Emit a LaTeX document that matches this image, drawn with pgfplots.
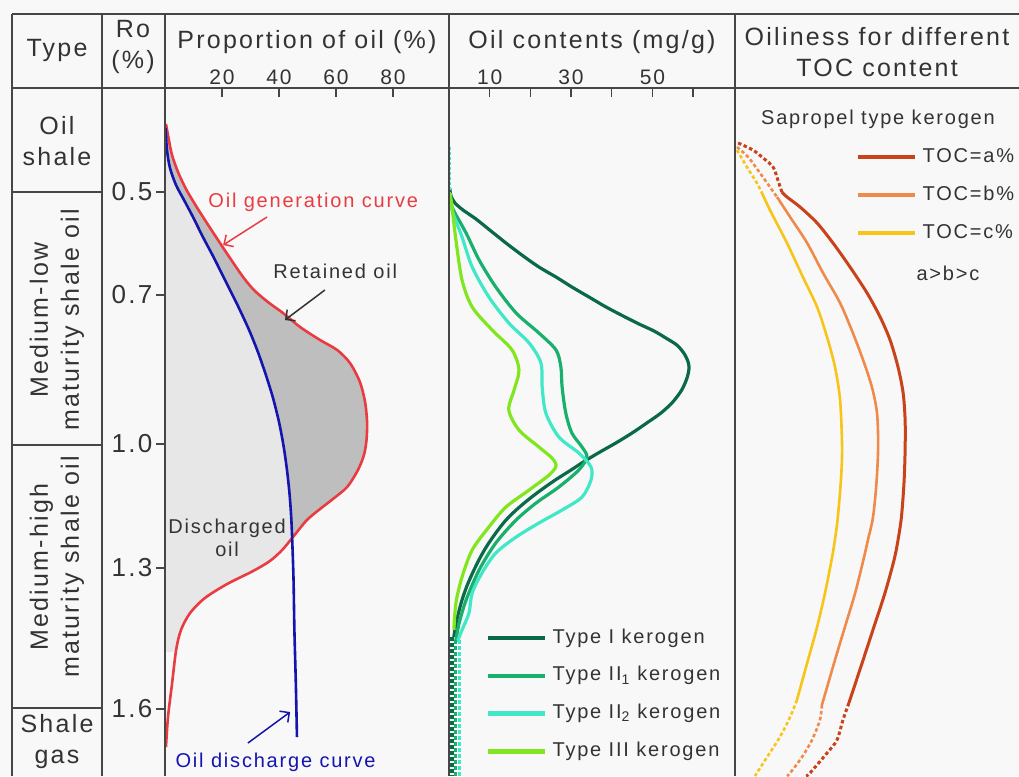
\documentclass[border=0pt]{standalone}
\usepackage{pgfplots}
\pgfplotsset{compat=1.18}
\usetikzlibrary{arrows.meta}
\usepackage{fontspec}
\setmainfont{Liberation Sans}[LetterSpace=9]

\definecolor{frame}{RGB}{70,70,70}
\definecolor{txt}{RGB}{51,51,51}
\definecolor{bg}{RGB}{248,248,248}
\definecolor{gencol}{RGB}{232,60,66}
\definecolor{discol}{RGB}{20,20,175}
\definecolor{retfill}{RGB}{190,190,190}
\definecolor{disfill}{RGB}{231,231,231}
\definecolor{kI}{RGB}{10,105,72}
\definecolor{kIIa}{RGB}{24,176,108}
\definecolor{kIIb}{RGB}{64,232,200}
\definecolor{kIII}{RGB}{130,230,30}
\definecolor{tocA}{RGB}{200,66,26}
\definecolor{tocB}{RGB}{240,138,74}
\definecolor{tocC}{RGB}{247,196,24}

\newcommand{\fhead}{\fontsize{25}{31}\selectfont}
\newcommand{\fnote}{\fontsize{20}{23}\selectfont}
\newcommand{\ftick}{\fontsize{21}{25}\selectfont}
\newcommand{\fro}{\fontsize{26}{30}\selectfont}

\pgfplotsset{
  panel/.style={anchor=north west, scale only axis, height=688pt,
    ymin=88, ymax=776, y dir=reverse,
    axis line style={draw=none},
    major tick length=9pt,
    tick style={draw=frame, line width=1.5pt},
    every tick label/.append style={text=txt},
    xticklabel style={font=\ftick},
    yticklabel style={font=\fro},
    legend cell align=left},
  keylegend/.style={legend image code/.code={\draw[##1, line width=4.5pt, solid] (0pt,0pt) -- (57pt,0pt);}},
}

\begin{document}
\begin{tikzpicture}
\path[use as bounding box, fill=bg] (0pt,0pt) rectangle (1019pt,-776pt);

% ---------- Proportion of oil ----------
\begin{axis}[panel, at={(165pt,-88pt)}, width=284pt, xmin=0, xmax=99.65,
  xtick={20,40,60,80}, xticklabels={20,40,60,80},
  xtick pos=right, xticklabel pos=right, xtick align=inside,
  ytick={192,295,444,568,709}, yticklabels={0.5,0.7,1.0,1.3,1.6},
  ytick pos=left, yticklabel pos=left, ytick align=outside]
% discharged oil: between the Ro axis and the generation curve
\addplot[fill=disfill, draw=none, smooth, tension=0.5] coordinates {
 (0,124) (0.35,124) (1.23,138) (2.46,155) (4.56,172) (7.37,189) (10.9,206)
 (14.7,223) (18.6,240) (22.8,258) (27.4,277) (31.2,290) (36.1,302) (41.4,313)
 (47.4,327) (54.4,340) (60.4,350) (64.9,363) (68.4,382) (70.2,402) (70.9,422)
 (70.7,440) (69.8,455) (67.7,470) (63.9,487) (58.9,499) (54.4,509) (49.8,520)
 (44.9,537) (41.1,550) (36.8,561) (30.9,571) (21.8,584) (14.0,598) (8.8,613)
 (5.6,630) (3.9,650) (0,652)} -- cycle;
% retained oil: between the discharge and generation curves
\addplot[fill=retfill, draw=none, smooth, tension=0.5] coordinates {
 (0.35,124) (1.23,138) (2.46,155) (4.56,172) (7.37,189) (10.9,206)
 (14.7,223) (18.6,240) (22.8,258) (27.4,277) (31.2,290) (36.1,302) (41.4,313)
 (47.4,327) (54.4,340) (60.4,350) (64.9,363) (68.4,382) (70.2,402) (70.9,422)
 (70.7,440) (69.8,455) (67.7,470) (63.9,487) (58.9,499) (54.4,509) (49.8,520)
 (44.6,538)
 (44.3,518) (43.7,494) (42.8,470) (41.6,446) (40.0,422) (37.9,398) (35.4,375)
 (32.6,352) (29.5,330) (25.6,306) (21.4,282) (17.2,258) (13.3,237) (9.82,217)
 (6.67,200) (3.86,185) (1.75,168) (0.70,150) (0.18,128)} -- cycle;
\addplot[draw=gencol, line width=2.6pt, smooth, tension=0.5] coordinates {
 (0.35,124) (1.23,138) (2.46,155) (4.56,172) (7.37,189) (10.9,206)
 (14.7,223) (18.6,240) (22.8,258) (27.4,277) (31.2,290) (36.1,302) (41.4,313)
 (47.4,327) (54.4,340) (60.4,350) (64.9,363) (68.4,382) (70.2,402) (70.9,422)
 (70.7,440) (69.8,455) (67.7,470) (63.9,487) (58.9,499) (54.4,509) (49.8,520)
 (44.9,537) (41.1,550) (36.8,561) (30.9,571) (21.8,584) (14.0,598) (8.8,613)
 (5.6,630) (3.9,650) (2.5,683) (1.05,717) (0.35,747)};
\addplot[draw=discol, line width=2.6pt, smooth, tension=0.5] coordinates {
 (0.18,128) (0.70,150) (1.75,168) (3.86,185) (6.67,200) (9.82,217) (13.3,237)
 (17.2,258) (21.4,282) (25.6,306) (29.5,330) (32.6,352) (35.4,375) (37.9,398)
 (40.0,422) (41.6,446) (42.8,470) (43.7,494) (44.3,518) (44.7,545) (45.1,580)
 (45.4,630) (45.9,683) (46.3,737)};

\node[anchor=west, text=gencol, font=\fnote] at (axis cs:14,202) {Oil generation curve};
\draw[gencol, line width=1.5pt, -{Straight Barb[length=7pt,width=14pt]}] (axis cs:35.8,217) -- (axis cs:20.4,245);
\node[anchor=west, text=txt, font=\fnote] at (axis cs:36.8,271) {Retained oil};
\draw[txt, line width=1.5pt, -{Straight Barb[length=7pt,width=14pt]}] (axis cs:56.1,290) -- (axis cs:42.1,320);
\node[align=center, text=txt, font=\fnote] at (axis cs:21.8,538) {Discharged\\oil};
\node[anchor=west, text=discol, font=\fnote] at (axis cs:2.5,762) {Oil discharge curve};
\draw[discol, line width=1.5pt, -{Straight Barb[length=7pt,width=14pt]}] (axis cs:29.1,743) -- (axis cs:43.9,712);
\end{axis}

% ---------- Oil contents ----------
\begin{axis}[panel, keylegend, at={(449pt,-88pt)}, width=286pt, xmin=0, xmax=70.3,
  xtick={10,20,30,40,50,60}, xticklabels={10,,30,,50,},
  xtick pos=right, xticklabel pos=right, xtick align=inside, ytick=\empty,
  legend style={at={(0.129,0.2137)}, anchor=north west, draw=none, fill=none,
    font=\fnote, text=txt, inner sep=0pt, row sep=19.7pt, column sep=5pt,
    nodes={inner sep=0pt, text height=14pt, text depth=4pt}}]
\addplot[kI, line width=3.2pt, smooth, tension=0.5] coordinates {
 (0.17,188) (0.49,196) (1.47,203) (3.44,210) (6.63,219) (10.3,231) (14.0,243)
 (17.9,255) (22.1,267) (26.3,277) (30.2,287) (34.4,297) (38.6,307) (42.8,316)
 (46.7,324) (50.4,331) (53.3,338) (56.0,345) (57.7,353) (58.7,361) (59.0,368)
 (58.5,378) (57.2,390) (55.0,402) (52.1,413) (48.6,423) (45.0,433) (41.0,443)
 (37.1,452) (33.4,461) (30.0,470) (26.5,479) (23.3,488) (19.7,499) (16.5,510)
 (13.8,521) (11.5,533) (9.3,546) (7.6,558) (5.9,572) (4.4,586) (3.2,600)
 (2.2,615) (1.5,628) (1.2,637)};
\addlegendentry{Type I kerogen}
\addplot[kIIa, line width=3.2pt, smooth, tension=0.5] coordinates {
 (0.25,193) (0.74,207) (4.2,233) (7.4,260) (11.5,287) (16.5,313) (22.1,333)
 (26.3,350) (27.5,367) (27.8,387) (28.7,413) (30.2,433) (32.7,447) (33.9,457)
 (31.9,470) (27.0,487) (21.4,503) (16.5,520) (11.5,543) (7.4,570) (4.2,600)
 (2.5,623) (1.7,640)};
\addlegendentry{Type II\textsubscript{1} kerogen}
\addplot[kIIb, line width=3.2pt, smooth, tension=0.5] coordinates {
 (0.25,193) (0.74,210) (3.2,237) (5.7,267) (9.8,297) (14.7,323) (19.7,343)
 (22.6,363) (22.9,387) (23.8,413) (27.0,437) (31.9,453) (34.9,467) (34.9,480)
 (32.7,497) (27.8,510) (22.1,523) (16.5,537) (11.5,553) (8.1,573) (5.7,593)
 (4.9,613) (3.2,630) (2.0,642)};
\addlegendentry{Type II\textsubscript{2} kerogen}
\addplot[kIII, line width=3.2pt, smooth, tension=0.5] coordinates {
 (0.25,193) (0.74,207) (1.7,240) (3.2,280) (5.7,307) (10.6,330) (15.5,350)
 (17.2,370) (16.0,390) (14.7,410) (17.2,430) (22.1,447) (25.3,458) (26.3,466)
 (24.6,475) (19.7,490) (14.0,507) (9.8,527) (5.7,550) (3.2,577) (1.7,603)
 (1.2,630)};
\addlegendentry{Type III kerogen}
% dashed extensions above and below the generation window
\addplot[forget plot, kIIb, line width=2pt, dash pattern=on 3pt off 2pt] coordinates {(0.35,147) (0.35,193)};
\addplot[forget plot, kI, line width=1.6pt, dash pattern=on 3pt off 2pt] coordinates {(0.15,147) (0.15,190)};
\addplot[forget plot, kIIb, line width=3.6pt, dash pattern=on 3.5pt off 2.5pt] coordinates {(2.6,640) (2.6,776)};
\addplot[forget plot, kIIa, line width=3.6pt, dash pattern=on 3.5pt off 2.5pt] coordinates {(1.6,640) (1.6,776)};
\addplot[forget plot, kI, line width=3.6pt, dash pattern=on 3.5pt off 2.5pt] coordinates {(0.7,637) (0.7,776)};
\end{axis}

% ---------- Oiliness for different TOC content ----------
\begin{axis}[panel, keylegend, at={(735pt,-88pt)}, width=284pt, xmin=0, xmax=100,
  xtick=\empty, ytick=\empty,
  legend style={at={(0.426,0.9128)}, anchor=north west, draw=none, fill=none,
    font=\fnote, text=txt, inner sep=0pt, row sep=20pt, column sep=5pt,
    nodes={inner sep=0pt, text height=14pt, text depth=4pt}}]
\addplot[tocA, line width=3pt, smooth, tension=0.5] coordinates {
 (16.5,192) (18.3,197) (22.9,207) (28.9,223) (34.5,243) (40.5,267) (46.5,293)
 (51.1,317) (54.6,340) (57.4,367) (59.2,393) (59.9,420) (59.9,450) (59.5,483)
 (58.6,517) (57.4,540) (56.0,560) (52.8,593) (48.9,627) (45.1,660) (40.1,703)};
\addlegendentry{TOC=a\%}
\addplot[tocB, line width=2.6pt, smooth, tension=0.5] coordinates {
 (14.8,197) (19.4,217) (25.4,243) (31.0,273) (37.0,303) (41.5,333) (45.1,360)
 (48.2,387) (50.0,413) (50.4,447) (49.8,483) (48.6,517) (46.8,540) (45.2,560)
 (42.3,593) (38.7,627) (35.2,660) (30.6,705)};
\addlegendentry{TOC=b\%}
\addplot[tocC, line width=2.6pt, smooth, tension=0.5] coordinates {
 (9.5,193) (12.3,210) (18.3,243) (23.9,277) (28.9,307) (32.4,337) (35.2,367)
 (37.0,400) (37.7,447) (37.3,480) (36.1,520) (34.9,545) (34.0,560) (31.7,593)
 (28.9,627) (25.7,660) (21.8,700)};
\addlegendentry{TOC=c\%}
% dashed ends
\addplot[forget plot, tocA, line width=3pt, dash pattern=on 3.5pt off 2.5pt, smooth] coordinates {
 (1.1,143) (6.3,150) (9.9,158) (13.4,167) (15.1,180) (16.5,192)};
\addplot[forget plot, tocB, line width=2.6pt, dash pattern=on 3.5pt off 2.5pt, smooth] coordinates {
 (0.7,147) (4.6,157) (8.8,173) (12.3,187) (14.8,197)};
\addplot[forget plot, tocC, line width=2.6pt, dash pattern=on 3.5pt off 2.5pt, smooth] coordinates {
 (0.7,150) (4.2,167) (7.7,183) (9.5,193)};
\addplot[forget plot, tocA, line width=3pt, dash pattern=on 3.5pt off 2.5pt, smooth] coordinates {
 (40.1,703) (38.0,720) (35.9,740) (32.4,753) (26.4,773) (25.0,776)};
\addplot[forget plot, tocB, line width=2.6pt, dash pattern=on 3.5pt off 2.5pt, smooth] coordinates {
 (30.6,705) (29.9,720) (27.1,740) (23.6,757) (19.4,773) (18.3,776)};
\addplot[forget plot, tocC, line width=2.6pt, dash pattern=on 3.5pt off 2.5pt, smooth] coordinates {
 (21.8,700) (19.4,717) (15.8,737) (11.3,757) (7.7,773) (7.0,776)};
\end{axis}

% ---------- table frame and headings ----------
\begin{scope}[x=1pt, y=-1pt]
\draw[frame, line width=2pt] (12,14) -- (1019,14);
\draw[frame, line width=2pt] (12,88) -- (1019,88);
\foreach \xx in {12,102,165,449,735} \draw[frame, line width=2pt] (\xx,14) -- (\xx,776);
\foreach \yy in {192,445,708} \draw[frame, line width=2pt] (12,\yy) -- (102,\yy);

\begin{scope}[every node/.style={text=txt, font=\fhead, align=center}]
\node at (57,50) {Type};
\node at (133,47) {Ro\\(\%)};
\node at (307,42) {Proportion of oil (\%)};
\node at (592,42) {Oil contents (mg/g)};
\node at (877,52) {Oiliness for different\\TOC content};
\node at (57,141) {Oil\\shale};
\node[rotate=90] at (57,320) {Medium-low\\maturity shale oil};
\node[rotate=90] at (57,567) {Medium-high\\maturity shale oil};
\node at (57,742) {Shale\\gas};
\end{scope}
\node[text=txt, font=\fnote] at (878,119) {Sapropel type kerogen};
\node[text=txt, font=\fnote, anchor=west] at (913,273) {a>b>c};
\end{scope}
\end{tikzpicture}
\end{document}
